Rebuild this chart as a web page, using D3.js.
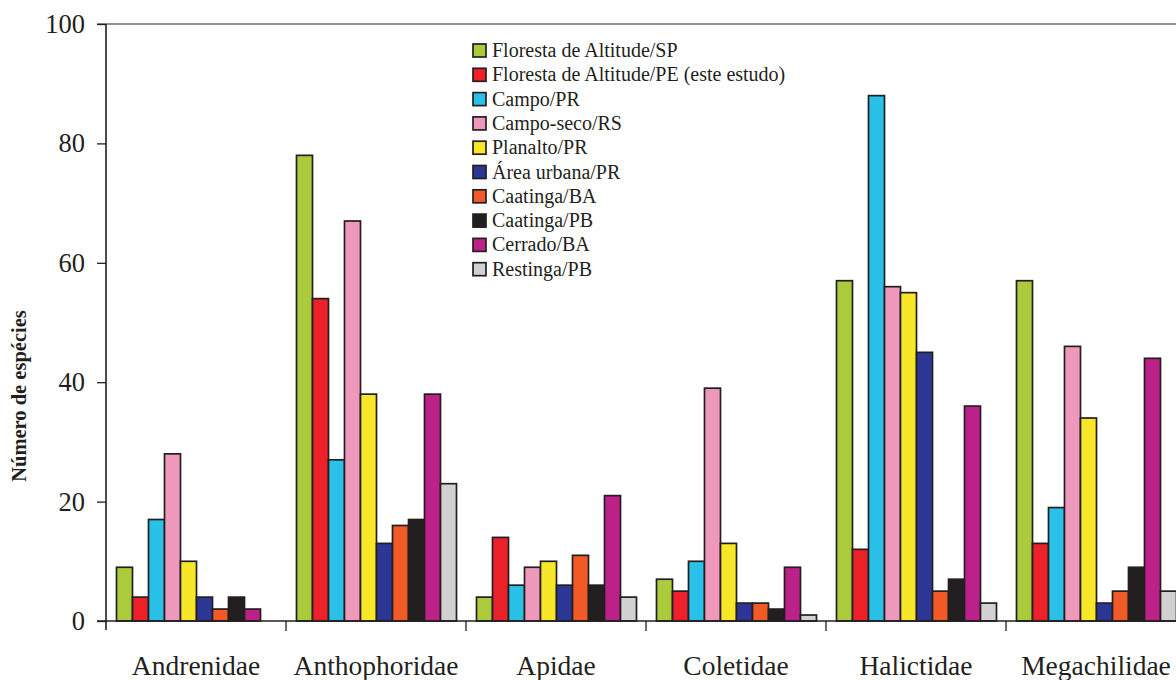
<!DOCTYPE html>
<html>
<head>
<meta charset="utf-8">
<script src="https://cdn.jsdelivr.net/npm/d3@7"></script>
<style>
  html, body { margin: 0; padding: 0; background: #fff; }
  svg { display: block; }
  text { font-family: "Liberation Serif", "Times New Roman", serif; fill: #231f20; }
</style>
</head>
<body>
<svg id="chart" width="1176" height="680"></svg>
<script>
// Bee families on the x axis
const families = ["Andrenidae", "Anthophoridae", "Apidae", "Coletidae", "Halictidae", "Megachilidae"];

// Study sites (one bar per site within each family)
const sites = [
  "Floresta de Altitude/SP",
  "Floresta de Altitude/PE (este estudo)",
  "Campo/PR",
  "Campo-seco/RS",
  "Planalto/PR",
  "Área urbana/PR",
  "Caatinga/BA",
  "Caatinga/PB",
  "Cerrado/BA",
  "Restinga/PB"
];

const siteColors = ["#abcb3d", "#ec2129", "#29c1e8", "#ee99bb", "#f8e628", "#2c3795", "#f15a26", "#231f20", "#bb2189", "#d1d1d1"];

// Number of species per site, listed in family order
const florestaSP    = [9, 78, 4, 7, 57, 57];
const florestaPE    = [4, 54, 14, 5, 12, 13];
const campoPR       = [17, 27, 6, 10, 88, 19];
const campoSecoRS   = [28, 67, 9, 39, 56, 46];
const planaltoPR    = [10, 38, 10, 13, 55, 34];
const areaUrbanaPR  = [4, 13, 6, 3, 45, 3];
const caatingaBA    = [2, 16, 11, 3, 5, 5];
const caatingaPB    = [4, 17, 6, 2, 7, 9];
const cerradoBA     = [2, 38, 21, 9, 36, 44];
const restingaPB    = [0, 23, 4, 1, 3, 5];

const yTicks = [0, 20, 40, 60, 80, 100];

const seriesValues = [florestaSP, florestaPE, campoPR, campoSecoRS, planaltoPR,
                      areaUrbanaPR, caatingaBA, caatingaPB, cerradoBA, restingaPB];

const serif = '"Liberation Serif", "Times New Roman", serif';
const svg = d3.select("#chart");
const axisColor = "#231f20";

const x0 = d3.scaleBand().domain(families).range([106, 1186]).paddingInner(0).paddingOuter(0);
const x1 = d3.scaleBand().domain(sites).range([10.5, 170.5]).padding(0);
const y = d3.scaleLinear().domain([0, 100]).range([621, 24]);

// Top frame line
svg.append("line")
  .attr("x1", 97).attr("x2", 1176)
  .attr("y1", y(100)).attr("y2", y(100))
  .attr("stroke", "#6d6d6d").attr("stroke-width", 1.3);

// Bars
const groups = svg.append("g").selectAll("g")
  .data(families)
  .join("g")
  .attr("transform", d => `translate(${x0(d)},0)`);

groups.selectAll("rect")
  .data((fam, i) => sites.map((s, j) => ({ site: s, j, value: seriesValues[j][i] })).filter(d => d.value > 0))
  .join("rect")
  .attr("x", d => x1(d.site))
  .attr("y", d => y(d.value))
  .attr("width", x1.bandwidth())
  .attr("height", d => y(0) - y(d.value))
  .attr("fill", d => siteColors[d.j])
  .attr("stroke", "#231f20")
  .attr("stroke-width", 1.7);

// Y axis
const yAxis = d3.axisLeft(y).tickValues(yTicks).tickSize(9).tickPadding(12).tickSizeOuter(0);
const gy = svg.append("g").attr("transform", "translate(106,0)").call(yAxis);
gy.select(".domain").attr("stroke", axisColor).attr("stroke-width", 1.6)
  .attr("d", `M0,${y(100)}V${y(0) + 9}`);
gy.selectAll(".tick line").attr("stroke", axisColor).attr("stroke-width", 1.3);
gy.selectAll(".tick text")
  .style("font-family", serif)
  .attr("font-size", 26.5)
  .attr("fill", axisColor);

// X axis
const xAxis = d3.axisBottom(x0).tickSize(0).tickPadding(0).tickFormat("");
const gx = svg.append("g").attr("transform", `translate(0,${y(0)})`).call(xAxis);
gx.select(".domain").attr("stroke", axisColor).attr("stroke-width", 1.3)
  .attr("d", "M97,0H1176");
// Boundary ticks between families
gx.selectAll(".boundary")
  .data(families.slice(1))
  .join("line")
  .attr("class", "boundary")
  .attr("x1", d => x0(d)).attr("x2", d => x0(d))
  .attr("y1", 0).attr("y2", 10)
  .attr("stroke", axisColor).attr("stroke-width", 1.3);

// Family labels
svg.append("g").selectAll("text")
  .data(families)
  .join("text")
  .attr("x", d => x0(d) + x0.bandwidth() / 2)
  .attr("y", 675)
  .attr("text-anchor", "middle")
  .style("font-family", serif)
  .attr("font-size", 27.5)
  .text(d => d);

// Y axis title
svg.append("text")
  .attr("transform", "translate(26,396) rotate(-90)")
  .attr("text-anchor", "middle")
  .style("font-family", serif)
  .attr("font-size", 20.5)
  .attr("font-weight", "bold")
  .text("Número de espécies");

// Legend
const legend = svg.append("g").attr("transform", "translate(473,44)");
const rowH = 24.3;
const item = legend.selectAll("g")
  .data(sites)
  .join("g")
  .attr("transform", (d, i) => `translate(0,${i * rowH})`);
item.append("rect")
  .attr("x", 0).attr("y", 0)
  .attr("width", 13).attr("height", 13)
  .attr("fill", (d, i) => siteColors[i])
  .attr("stroke", "#231f20")
  .attr("stroke-width", 1.7);
item.append("text")
  .attr("x", 19)
  .attr("y", 13)
  .style("font-family", serif)
  .attr("font-size", 20)
  .text(d => d);
</script>
</body>
</html>
